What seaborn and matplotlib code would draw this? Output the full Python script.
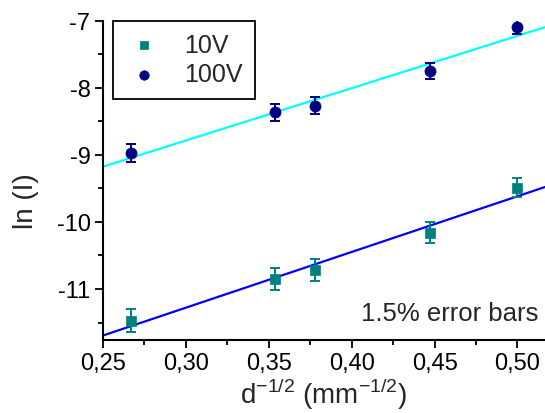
import numpy as np
import pandas as pd
import matplotlib
matplotlib.use("Agg")
import matplotlib.pyplot as plt
from matplotlib.ticker import MultipleLocator, FuncFormatter
import seaborn as sns

# ---- data ----
x_vals = [0.267, 0.354, 0.378, 0.447, 0.500]
y_10v = [-11.47, -10.85, -10.72, -10.16, -9.49]
y_100v = [-8.97, -8.37, -8.27, -7.75, -7.10]
series_names = ["10V", "100V"]
err_frac = 0.015
x_ticks = [0.25, 0.30, 0.35, 0.40, 0.45, 0.50]
y_ticks = [-7, -8, -9, -10, -11]

sns.set_style("ticks")
plt.rcParams["font.family"] = ["Liberation Sans", "DejaVu Sans"]
plt.rcParams["axes.unicode_minus"] = False

df = pd.DataFrame({
    "x": x_vals * 2,
    "y": y_10v + y_100v,
    "series": [series_names[0]] * len(x_vals) + [series_names[1]] * len(x_vals),
})
df["err"] = df["y"].abs() * err_frac

fig = plt.figure(figsize=(5.45, 4.14), dpi=100)
ax = fig.add_axes([103 / 545, 1 - 341 / 414, 1 - 103 / 545, (341 - 21.5) / 414])

xlim = (0.25, 0.5166)
ylim = (-11.76, -7.0)

pt_colors = {"10V": "#008080", "100V": "#000080"}
fit_colors = {"10V": "#0000FF", "100V": "#00FFFF"}
markers = {"10V": "s", "100V": "o"}
msizes = {"10V": 7, "100V": 8}

# fit lines
xx = np.linspace(xlim[0], xlim[1], 50)
fit_rows = []
for s in series_names:
    sub = df[df.series == s]
    k, b = np.polyfit(sub.x, sub.y, 1)
    fit_rows.append(pd.DataFrame({"x": xx, "y": k * xx + b, "series": s}))
fit_df = pd.concat(fit_rows)
sns.lineplot(data=fit_df, x="x", y="y", hue="series", palette=fit_colors,
             linewidth=1.6, legend=False, ax=ax, zorder=2)

# error bars
for s in series_names:
    sub = df[df.series == s]
    ax.errorbar(sub.x, sub.y, yerr=sub.err, fmt="none", ecolor=pt_colors[s],
                elinewidth=1.4, capsize=3.3, capthick=1.4, zorder=3)

# points
for s in series_names:
    sub = df[df.series == s]
    sns.scatterplot(data=sub, x="x", y="y", color=pt_colors[s], marker=markers[s],
                    s=msizes[s] ** 2, edgecolor=pt_colors[s], linewidth=0.5,
                    label=s, ax=ax, zorder=4)

ax.set_xlim(*xlim)
ax.set_ylim(*ylim)
ax.set_xticks(x_ticks)
ax.set_yticks(y_ticks)
ax.xaxis.set_minor_locator(MultipleLocator(0.025))
ax.yaxis.set_minor_locator(MultipleLocator(0.5))
ax.xaxis.set_major_formatter(FuncFormatter(lambda v, p: f"{v:.2f}".replace(".", ",")))
ax.yaxis.set_major_formatter(FuncFormatter(lambda v, p: f"{v:.0f}"))
ax.tick_params(axis="both", which="major", direction="out", length=6, width=1.3,
               labelsize=17, color="black", labelcolor="black", pad=3)
ax.tick_params(axis="both", which="minor", direction="out", length=3.5, width=1.3,
               color="black")
for side in ["top", "right"]:
    ax.spines[side].set_visible(False)
for side in ["left", "bottom"]:
    ax.spines[side].set_linewidth(1.5)
    ax.spines[side].set_color("black")

ax.set_xlabel(r"d$^{\mathregular{-1/2}}$ (mm$^{\mathregular{-1/2}}$)", fontsize=20, labelpad=1)
ax.set_ylabel("ln (I)", fontsize=20)
ax.yaxis.set_label_coords(-0.145, 0.438)

ax.text(0.985, 0.063, "1.5% error bars", transform=ax.transAxes, ha="right",
        va="baseline", fontsize=18.5)

leg = ax.legend(loc="upper left", bbox_to_anchor=(0.0226, 1.0), borderaxespad=0,
                fontsize=18, frameon=True, fancybox=False, edgecolor="black",
                handletextpad=0.85, borderpad=0.5, labelspacing=0.22,
                handlelength=1.5, markerscale=0.85)
leg.get_frame().set_linewidth(1.3)
leg.get_frame().set_alpha(1)

fig.savefig("out.png", dpi=100)
